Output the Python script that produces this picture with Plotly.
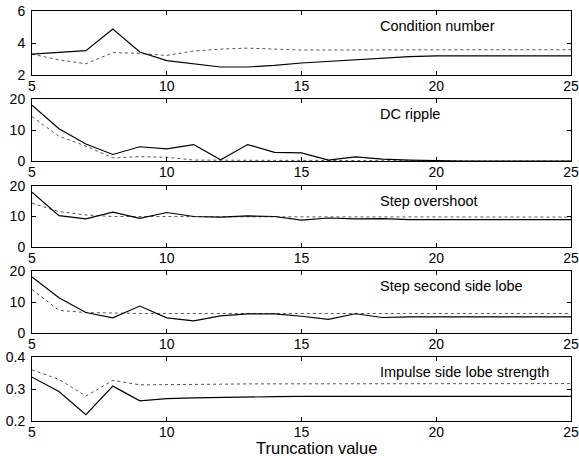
import plotly.graph_objects as go

W, H = 579, 456
truncation = list(range(5, 26))

cond_solid = [3.31, 3.42, 3.52, 4.87, 3.44, 2.9, 2.68, 2.5, 2.5, 2.6, 2.75, 2.85, 2.95, 3.08, 3.15, 3.2, 3.2, 3.2, 3.2, 3.2, 3.2]
cond_dash = [3.3, 2.95, 2.7, 3.4, 3.35, 3.22, 3.5, 3.62, 3.68, 3.6, 3.56, 3.56, 3.57, 3.58, 3.58, 3.58, 3.58, 3.58, 3.58, 3.58, 3.58]

dc_solid = [18.0, 10.4, 5.5, 2.1, 4.6, 3.9, 5.3, 0.4, 5.3, 2.8, 2.6, 0.3, 1.3, 0.6, 0.3, 0.1, 0.0, 0.0, 0.0, 0.0, 0.0]
dc_dash = [14.3, 8.0, 4.8, 1.0, 1.4, 1.2, 0.3, 0.2, 0.2, 0.2, 0.2, 0.1, 0.1, 0.1, 0.1, 0.0, 0.0, 0.0, 0.0, 0.0, 0.0]

step_solid = [18.0, 10.3, 9.2, 11.4, 9.4, 11.3, 10.0, 9.8, 10.2, 10.0, 8.8, 9.5, 9.2, 9.3, 9.0, 9.0, 9.0, 9.0, 9.0, 9.0, 9.0]
step_dash = [14.4, 11.6, 10.5, 10.0, 10.0, 9.9, 9.9, 9.9, 9.9, 9.9, 9.8, 9.8, 9.8, 9.8, 9.8, 9.8, 9.8, 9.8, 9.8, 9.8, 9.8]

lobe_solid = [18.1, 11.4, 6.6, 4.9, 8.7, 4.9, 3.9, 5.5, 6.2, 6.2, 5.4, 4.4, 6.2, 5.0, 5.2, 5.2, 5.2, 5.2, 5.2, 5.2, 5.2]
lobe_dash = [14.0, 7.3, 6.6, 6.4, 6.3, 6.3, 6.3, 6.3, 6.3, 6.3, 6.3, 6.3, 6.3, 6.3, 6.3, 6.3, 6.3, 6.3, 6.3, 6.3, 6.3]

imp_solid = [0.337, 0.292, 0.22, 0.309, 0.263, 0.27, 0.272, 0.274, 0.275, 0.276, 0.277, 0.277, 0.277, 0.277, 0.277, 0.277, 0.277, 0.277, 0.277, 0.277, 0.277]
imp_dash = [0.36, 0.33, 0.278, 0.327, 0.313, 0.313, 0.314, 0.315, 0.316, 0.316, 0.317, 0.317, 0.317, 0.317, 0.317, 0.317, 0.317, 0.317, 0.317, 0.317, 0.317]

titles = ["Condition number", "DC ripple", "Step overshoot", "Step second side lobe", "Impulse side lobe strength"]
y_ranges = [[2, 6], [0, 20], [0, 20], [0, 20], [0.2, 0.4]]
y_ticks = [[2, 4, 6], [0, 10, 20], [0, 10, 20], [0, 10, 20], [0.2, 0.3, 0.4]]
x_ticks = [5, 10, 15, 20, 25]

series = [(cond_solid, cond_dash), (dc_solid, dc_dash), (step_solid, step_dash),
          (lobe_solid, lobe_dash), (imp_solid, imp_dash)]

# panel pixel boxes (top, bottom)
boxes = [(11, 75), (99, 161), (186, 247), (271, 333), (357, 421)]
x_left, x_right = 32, 571

fig = go.Figure()
font = dict(family="Liberation Sans, Arial, sans-serif", size=14, color="black")
layout = dict(width=W, height=H, margin=dict(l=0, r=0, t=0, b=0, autoexpand=False),
              paper_bgcolor="white", plot_bgcolor="white", showlegend=False,
              font=font, annotations=[])

for i, ((s, d), (top, bot)) in enumerate(zip(series, boxes)):
    n = i + 1
    xa = "x" if n == 1 else f"x{n}"
    ya = "y" if n == 1 else f"y{n}"
    fig.add_trace(go.Scatter(x=truncation, y=d, mode="lines", xaxis=xa, yaxis=ya,
                             line=dict(color="#555555", width=1, dash="3px,3px")))
    fig.add_trace(go.Scatter(x=truncation, y=s, mode="lines", xaxis=xa, yaxis=ya,
                             line=dict(color="black", width=1.2)))
    axis_common = dict(showline=True, linecolor="black", linewidth=1, mirror="ticks",
                       ticks="inside", ticklen=4, tickcolor="black", showgrid=False,
                       zeroline=False, automargin=False, ticklabeloverflow="allow",
                       tickfont=dict(size=14, color="black"))
    layout["xaxis" if n == 1 else f"xaxis{n}"] = dict(
        axis_common, domain=[x_left / W, x_right / W], range=[5, 25],
        tickvals=x_ticks, anchor=ya, ticklabelstandoff=-2)
    layout["yaxis" if n == 1 else f"yaxis{n}"] = dict(
        axis_common, domain=[1 - bot / H, 1 - top / H], range=y_ranges[i],
        tickvals=y_ticks[i], anchor=xa, ticklabelstandoff=3)
    layout["annotations"].append(dict(
        text=titles[i], xref="paper", yref="paper", x=378 / W,
        y=1 - (top + 15) / H, xanchor="left", yanchor="middle",
        showarrow=False, font=dict(size=14.5, color="black")))

layout["annotations"].append(dict(
    text="Truncation value", xref="paper", yref="paper", x=316 / W, y=1 - 448 / H,
    xanchor="center", yanchor="middle", showarrow=False, font=dict(size=16.5, color="black")))

fig.update_layout(**layout)
fig.write_html("out.html", post_script="document.body.style.margin='0';",
               config={"displayModeBar": False})
